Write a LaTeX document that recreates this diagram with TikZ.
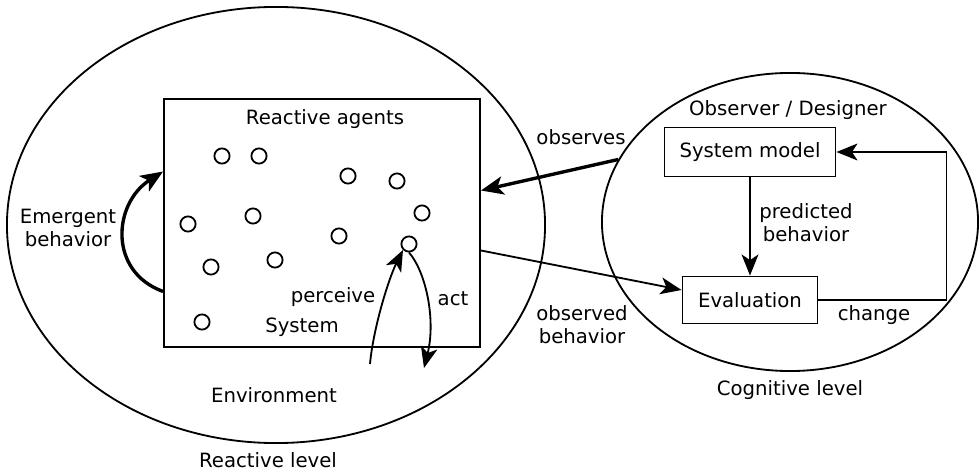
\documentclass[tikz,border=0pt]{standalone}
\usepackage{fontspec}
\setmainfont{DejaVu Sans}
\usetikzlibrary{arrows.meta,calc,shapes.geometric}

\tikzset{
  agent/.style={draw,circle,line width=1.3pt,minimum size=0.38cm,inner sep=0pt},
  box/.style={draw,rectangle,line width=1.3pt,inner sep=0pt},
  level/.style={draw,ellipse,line width=1.3pt,inner sep=0pt},
  lbl/.style={align=center,inner sep=1pt},
  thinarrow/.style={line width=1.3pt,-{Stealth[length=15pt,width=12pt,inset=4pt]}},
  thickarrow/.style={line width=2.4pt,-{Stealth[length=16pt,width=13pt,inset=4pt]}},
}

\begin{document}
\begin{tikzpicture}[x=0.025cm,y=-0.025cm,font=\fontsize{14}{16.5}\selectfont]
    \useasboundingbox (0,0) rectangle (980,471);

    % the two levels
    \node[level,minimum width=13.45cm,minimum height=10.9cm] (env) at (276,225) {};
    \node[level,minimum width=9.4cm,minimum height=7.45cm] (cog) at (790,222) {};

    % reactive system with its agents
    \node[box,minimum width=7.9cm,minimum height=6.2cm] (sys) at (322,223) {};
    \foreach \x/\y [count=\i] in {222/156,259/156,348/176,397/181,188/224,253/216,
                                  422/213,339/236,409/244,211/267,275/260,202/322} {
        \node[agent] (a\i) at (\x,\y) {};
    }

    \node[lbl] (agents) at (325,119) {Reactive agents};
    \node[lbl] (system) at (302,327) {System};
    \node[lbl] (perceive) at (333,297) {perceive};
    \node[lbl] (act) at (453,299) {act};
    \node[lbl] (emergent) at (68,228) {Emergent\\behavior};
    \node[lbl] (environment) at (274,395) {Environment};
    \node[lbl] (reactive) at (268,460) {Reactive level};

    % cognitive part
    \node[lbl] (observer) at (788,110) {Observer / Designer};
    \node[box,minimum width=4.275cm,minimum height=1.225cm] (model) at (750,152) {System model};
    \node[box,minimum width=3.375cm,minimum height=1.175cm] (eval) at (750,300) {Evaluation};
    \node[lbl] (predicted) at (806,223) {predicted\\behavior};
    \node[lbl] (change) at (874,315) {change};
    \node[lbl] (cognitive) at (790,390) {Cognitive level};
    \node[lbl] (observes) at (581,137) {observes};
    \node[lbl] (observed) at (582,325) {observed\\behavior};

    % free ends below the system
    \coordinate (pin) at (370,364);
    \coordinate (pout) at (424,368);

    % connectors
    \draw[thickarrow] ($(sys.south west)!0.226!(sys.north west)$)
        .. controls +(-55,-20) and +(-50,32) .. ($(sys.south west)!0.706!(sys.north west)$);
    \draw[thinarrow] (pin) .. controls (373,330) and (388,280) .. (a9.225);
    \draw[thinarrow] (a9.south) .. controls (426,272) and (436,320) .. (pout);
    \draw[thickarrow] (cog.160) -- ($(sys.south east)!0.63!(sys.north east)$);
    \draw[thinarrow] ($(sys.south east)!0.39!(sys.north east)$) -- ($(eval.west)+(0,-10)$);
    \draw[thinarrow] (model) -- (eval);
    \draw[thinarrow] (eval.east) -- ++(128,0) |- (model.east);
\end{tikzpicture}
\end{document}
